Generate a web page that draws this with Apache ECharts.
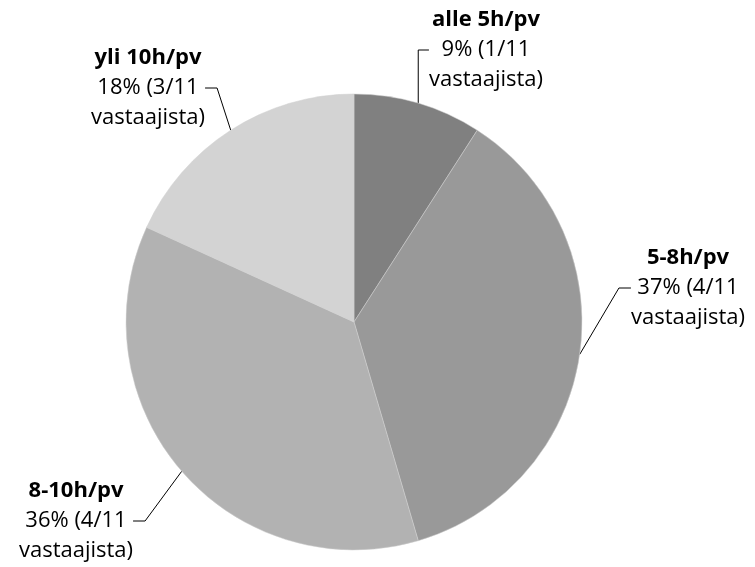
<!DOCTYPE html>
<html><head><meta charset="utf-8">
<script src="https://cdn.jsdelivr.net/npm/echarts@6/dist/echarts.min.js"></script>
<style>html,body{margin:0;padding:0;background:#fff}#c{width:755px;height:567px}</style>
</head><body><div id="c"></div>
<script>
const categories = ['alle 5h/pv', '5-8h/pv', '8-10h/pv', 'yli 10h/pv'];
const values = [9.1, 36.4, 36.4, 18.2];
const pctLabels = ['9% (1/11', '37% (4/11', '36% (4/11', '18% (3/11'];
const tailLabels = ['vastaajista)', 'vastaajista)', 'vastaajista)', 'vastaajista)'];
const colors = ['#808080', '#999999', '#b2b2b2', '#d3d3d3'];
const labelPos = [[486, 50], [688, 288], [76, 521], [148, 88]];

const chart = echarts.init(document.getElementById('c'));
chart.setOption({
  animation: false,
  series: [{
    type: 'pie',
    center: [354, 322],
    radius: 228,
    startAngle: 90,
    clockwise: true,
    data: categories.map((n, i) => ({ name: n, value: values[i], itemStyle: { color: colors[i] } })),
    itemStyle: { borderColor: '#cfcfcf', borderWidth: 0.5 },
    label: {
      show: true,
      position: 'outside',
      formatter: p => '{b|' + p.name + '}\n{c|' + pctLabels[p.dataIndex] + '}\n{c|' + tailLabels[p.dataIndex] + '}',
      rich: {
        b: { fontFamily: 'Open Sans', fontSize: 22, fontWeight: 'bold', color: '#000', lineHeight: 30, align: 'center' },
        c: { fontFamily: 'Open Sans', fontSize: 22, color: '#000', lineHeight: 30, align: 'center' }
      }
    },
    labelLine: { show: true, length: 8, length2: 12, lineStyle: { color: '#000', width: 1 } },
    labelLayout: p => ({ x: labelPos[p.dataIndex][0], y: labelPos[p.dataIndex][1], align: 'center', verticalAlign: 'middle' })
  }]
});
</script></body></html>
